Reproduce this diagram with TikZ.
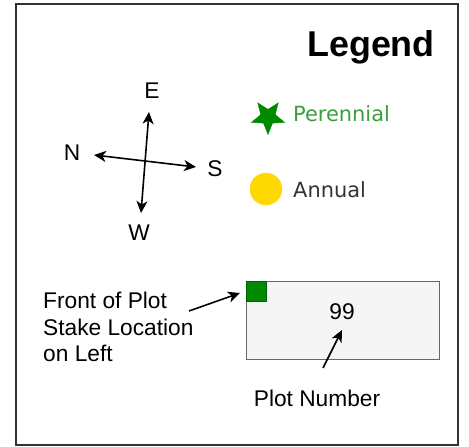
\documentclass[tikz,border=0pt]{standalone}
\usepackage{fontspec}
\setmainfont{Liberation Sans}
\newfontfamily\dejavu{DejaVu Sans}
\usetikzlibrary{arrows.meta,shapes.geometric}
\definecolor{starGreen}{HTML}{008A00}
\definecolor{txtGreen}{HTML}{3A9E3A}
\definecolor{annGray}{HTML}{333333}
\definecolor{sunYellow}{HTML}{FFD800}
\definecolor{plotFill}{HTML}{F5F5F5}
\definecolor{plotLine}{HTML}{666666}
\tikzset{
  lbl/.style={font=\fontsize{22.8}{26.6}\selectfont, inner sep=0pt, align=left},
  legtxt/.style={font=\dejavu\fontsize{21}{25}\selectfont, inner sep=0pt, anchor=west},
  arr/.style={line width=1.6bp, -{Stealth[length=12bp,width=11bp,inset=3.5bp]}},
  darr/.style={line width=1.6bp, {Stealth[length=12bp,width=11bp,inset=3.5bp]}-{Stealth[length=12bp,width=11bp,inset=3.5bp]}},
}
\begin{document}
\begin{tikzpicture}[x=1bp,y=-1bp]
\useasboundingbox (0,0) rectangle (469,447);
\draw[line width=1.5bp, color=black!80] (16,4) rectangle (458,445);
\node[font=\bfseries\fontsize{36}{40}\selectfont, inner sep=0pt, anchor=base east] (title) at (435,57) {Legend};
% compass
\coordinate (Etip) at (149,112);
\coordinate (Wtip) at (141,213);
\coordinate (Ntip) at (94,155);
\coordinate (Stip) at (196,167);
\draw[darr] (Ntip) -- (Stip);
\draw[darr] (Wtip) -- (Etip);
\node[lbl] (E) at (152,91) {E};
\node[lbl] (N) at (72,153) {N};
\node[lbl] (S) at (215,169) {S};
\node[lbl] (W) at (139,233) {W};
% legend items
\node[star, star points=5, star point ratio=2.3, shape border rotate=180, fill=starGreen, draw=starGreen, minimum size=35bp, inner sep=0pt] (star) at (268,117) {};
\node[legtxt, text=txtGreen] (per) at (293,114) {Perennial};
\node[circle, fill=sunYellow, draw=sunYellow, minimum size=32bp, inner sep=0pt] (sun) at (266,189) {};
\node[legtxt, text=annGray] (ann) at (293,190) {Annual};
% plot
\node[draw=plotLine, fill=plotFill, line width=1.2bp, minimum width=193bp, minimum height=78bp, inner sep=0pt, anchor=north west] (plot) at (246,281) {};
\node[draw=starGreen!70!black, fill=starGreen, line width=0.8bp, minimum size=20bp, inner sep=0pt, anchor=north west] (stake) at (246,281) {};
\node[lbl] (num) at (342,312) {99};
\node[lbl, anchor=west] (front) at (43,327) {Front of Plot\\Stake Location\\on Left};
\node[lbl] (pn) at (317,398) {Plot Number};
\coordinate (ftail) at (189,311);
\coordinate (fhead) at (240,293);
\coordinate (ptail) at (323,368);
\coordinate (phead) at (342,330);
\draw[arr] (ftail) -- (fhead);
\draw[arr] (ptail) -- (phead);
\end{tikzpicture}
\end{document}
